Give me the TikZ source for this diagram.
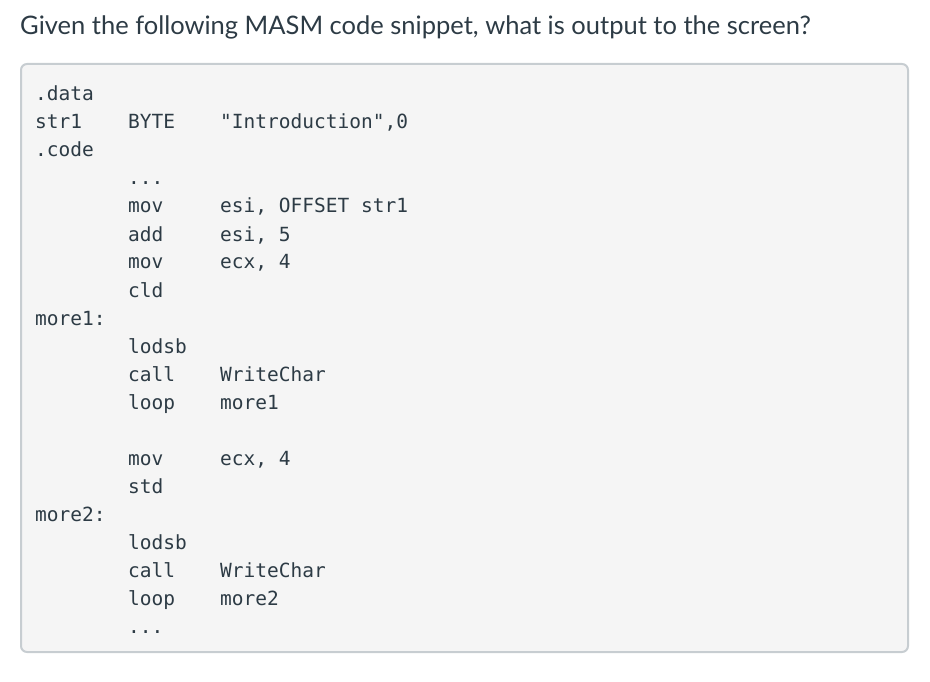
\documentclass[tikz,border=0pt]{standalone}
\usepackage{fontspec}
\setmainfont{Lato}
\setmonofont{DejaVu Sans Mono}
\definecolor{ink}{HTML}{2D3B45}
\definecolor{codebg}{HTML}{F5F5F5}
\definecolor{codeedge}{HTML}{C7CDD1}

\begin{document}
\begin{tikzpicture}[x=1pt,y=-1pt,
  code/.style={anchor=base west,inner sep=0pt,text=ink,font=\ttfamily\fontsize{19.5}{19.5}\selectfont},
  title/.style={anchor=base west,inner sep=0pt,text=ink,font=\fontsize{25.5}{25.5}\selectfont}]
\useasboundingbox (0,0) rectangle (930,682);
\node[title] (question) at (20,35) {Given the following MASM code snippet, what is output to the screen?};
\draw[codeedge,line width=2pt,fill=codebg,rounded corners=6pt] (21,64) rectangle (908,652);
% data section
\node[code] (data) at (35,101) {.data};
\node[code] (str) at (35,129) {str1};
\node[code] (byte) at (128,129) {BYTE};
\node[code] (intro) at (220,129) {"Introduction",0};
\node[code] (codesec) at (35,157) {.code};
\node[code] (dotsa) at (128,185) {...};
\node[code] (mova) at (128,213) {mov};
\node[code] (offset) at (220,213) {esi, OFFSET str1};
\node[code] (add) at (128,241) {add};
\node[code] (esi) at (220,241) {esi, 5};
\node[code] (movb) at (128,269) {mov};
\node[code] (ecxa) at (220,269) {ecx, 4};
\node[code] (cld) at (128,297) {cld};
% first loop
\node[code] (morea) at (35,325) {more1:};
\node[code] (lodsa) at (128,353) {lodsb};
\node[code] (calla) at (128,381) {call};
\node[code] (writea) at (220,381) {WriteChar};
\node[code] (loopa) at (128,409) {loop};
\node[code] (targeta) at (220,409) {more1};
\node[code] (movc) at (128,465) {mov};
\node[code] (ecxb) at (220,465) {ecx, 4};
\node[code] (std) at (128,493) {std};
% second loop
\node[code] (moreb) at (35,521) {more2:};
\node[code] (lodsb) at (128,549) {lodsb};
\node[code] (callb) at (128,577) {call};
\node[code] (writeb) at (220,577) {WriteChar};
\node[code] (loopb) at (128,605) {loop};
\node[code] (targetb) at (220,605) {more2};
\node[code] (dotsb) at (128,633) {...};
\end{tikzpicture}
\end{document}
